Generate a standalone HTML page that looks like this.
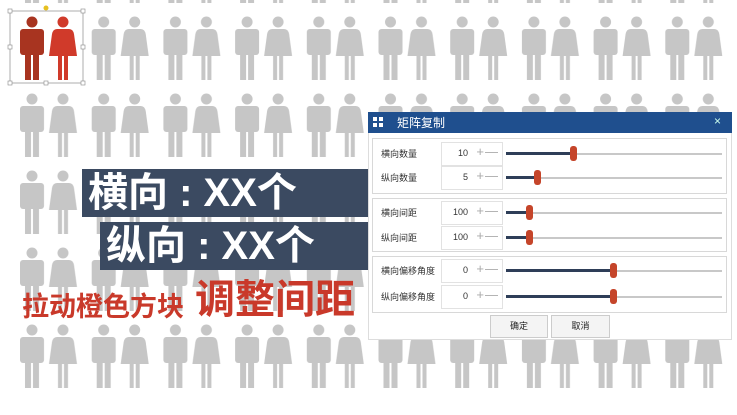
<!DOCTYPE html>
<html><head><meta charset="utf-8"><style>
body{margin:0;width:737px;height:415px;overflow:hidden;background:#fff;font-family:"Liberation Sans","Noto Sans CJK SC",sans-serif;position:relative}
.abs{position:absolute}
.lbl{position:absolute;background:#3b4a61;color:#fff;font-weight:bold;font-size:40px;line-height:48px;white-space:nowrap}
.grp{position:absolute;left:372px;width:353px;border:1px solid #d8d8d8;background:#fff}
.row{position:absolute;left:0;width:353px;height:24px}
.row .t{position:absolute;left:8px;top:5px;font-size:9px;color:#333}
.row .in{position:absolute;left:68px;top:0;width:60px;height:22px;border:1px solid #e2e2e2}
.row .v{position:absolute;right:34px;top:5px;font-size:9px;color:#333}
.row .pm{position:absolute;right:3px;top:1px;font-size:13px;color:#aaa;letter-spacing:1px}
.row .tr{position:absolute;left:133px;top:11px;width:216px;height:2px;background:#c8c8c8}
.row .fill{position:absolute;left:133px;top:10px;height:3px;background:#2e3e58}
.row .th{position:absolute;top:4px;width:7px;height:15px;background:#c5452a;border-radius:3px}
.btn{position:absolute;top:315px;height:21px;border:1px solid #ccc;background:#f4f4f4;font-size:9px;text-align:center;line-height:21px;color:#222}
</style></head><body>
<svg class="abs" style="left:0;top:0" width="737" height="415">
<defs>
<g id="m"><circle cx="12" cy="6" r="5.5"/><rect x="0" y="13" width="24" height="26" rx="3"/><rect x="5" y="36" width="6" height="28"/><rect x="13" y="36" width="6" height="28"/></g>
<g id="w"><circle cx="12" cy="6" r="5.5"/><path d="M6,13 L18,13 Q22,13 23,18 L26,40 L-2,40 L1,18 Q2,13 6,13Z"/><rect x="7" y="38" width="4" height="26"/><rect x="13" y="38" width="4" height="26"/></g>
<pattern id="p" x="20" y="16" width="71.7" height="77" patternUnits="userSpaceOnUse">
<g fill="#c6c6c6"><use href="#m"/><use href="#w" x="31"/></g>
</pattern>
</defs>
<rect x="17" y="0" width="720" height="400" fill="url(#p)"/>
<rect x="10" y="4" width="76" height="80" fill="#fff"/>
<use href="#m" x="20" y="16" fill="#a83420"/>
<use href="#w" x="51" y="16" fill="#d03a2a"/>
<rect x="10" y="11" width="73" height="72" fill="none" stroke="#999" stroke-width="0.8"/>
<circle cx="46" cy="8" r="2.5" fill="#e6c020"/>
<g fill="#fff" stroke="#888" stroke-width="0.6"><rect x="8" y="9" width="4" height="4"/><rect x="81" y="9" width="4" height="4"/><rect x="8" y="81" width="4" height="4"/><rect x="81" y="81" width="4" height="4"/><rect x="8" y="45" width="4" height="4"/><rect x="81" y="45" width="4" height="4"/><rect x="44" y="81" width="4" height="4"/></g>
</svg>

<div class="lbl" style="left:82px;top:169px;width:286px;height:48px;padding-left:6px;box-sizing:border-box">横向 : XX个</div>
<div class="lbl" style="left:100px;top:222px;width:268px;height:48px;padding-left:6px;box-sizing:border-box">纵向 : XX个</div>
<div class="abs" style="left:22px;top:285px;font-size:27px;font-weight:bold;color:#c9392a;white-space:nowrap">拉动橙色方块</div>
<div class="abs" style="left:195px;top:278px;font-size:40px;font-weight:bold;color:#c9392a;white-space:nowrap;line-height:44px">调整间距</div>

<div class="abs" style="left:368px;top:112px;width:364px;height:228px;background:#fff;border:1px solid #ddd;box-sizing:border-box"></div>
<div class="abs" style="left:368px;top:112px;width:364px;height:21px;background:#1f4f8e"></div>
<div class="abs" style="left:373px;top:117px;width:4px;height:4px;background:#fff;box-shadow:6px 0 #fff,0 6px #fff,6px 6px #fff"></div>
<div class="abs" style="left:397px;top:114px;color:#fff;font-size:12px">矩阵复制</div>
<div class="abs" style="left:714px;top:114px;color:#cfe;font-size:12px">×</div>

<div class="grp" style="top:138px;height:54px">
 <div class="row" style="top:3px"><span class="t">横向数量</span><div class="in"><span class="v">10</span><span class="pm">+—</span></div><div class="tr"></div><div class="fill" style="width:68px"></div><div class="th" style="left:197px"></div></div>
 <div class="row" style="top:27px"><span class="t">纵向数量</span><div class="in"><span class="v">5</span><span class="pm">+—</span></div><div class="tr"></div><div class="fill" style="width:32px"></div><div class="th" style="left:161px"></div></div>
</div>
<div class="grp" style="top:198px;height:52px">
 <div class="row" style="top:2px"><span class="t">横向间距</span><div class="in"><span class="v">100</span><span class="pm">+—</span></div><div class="tr"></div><div class="fill" style="width:22px"></div><div class="th" style="left:153px"></div></div>
 <div class="row" style="top:27px"><span class="t">纵向间距</span><div class="in"><span class="v">100</span><span class="pm">+—</span></div><div class="tr"></div><div class="fill" style="width:22px"></div><div class="th" style="left:153px"></div></div>
</div>
<div class="grp" style="top:256px;height:55px">
 <div class="row" style="top:2px"><span class="t">横向偏移角度</span><div class="in"><span class="v">0</span><span class="pm">+—</span></div><div class="tr"></div><div class="fill" style="width:106px"></div><div class="th" style="left:237px"></div></div>
 <div class="row" style="top:28px"><span class="t">纵向偏移角度</span><div class="in"><span class="v">0</span><span class="pm">+—</span></div><div class="tr"></div><div class="fill" style="width:106px"></div><div class="th" style="left:237px"></div></div>
</div>
<div class="btn" style="left:490px;width:56px">确定</div>
<div class="btn" style="left:551px;width:57px">取消</div>
</body></html>
